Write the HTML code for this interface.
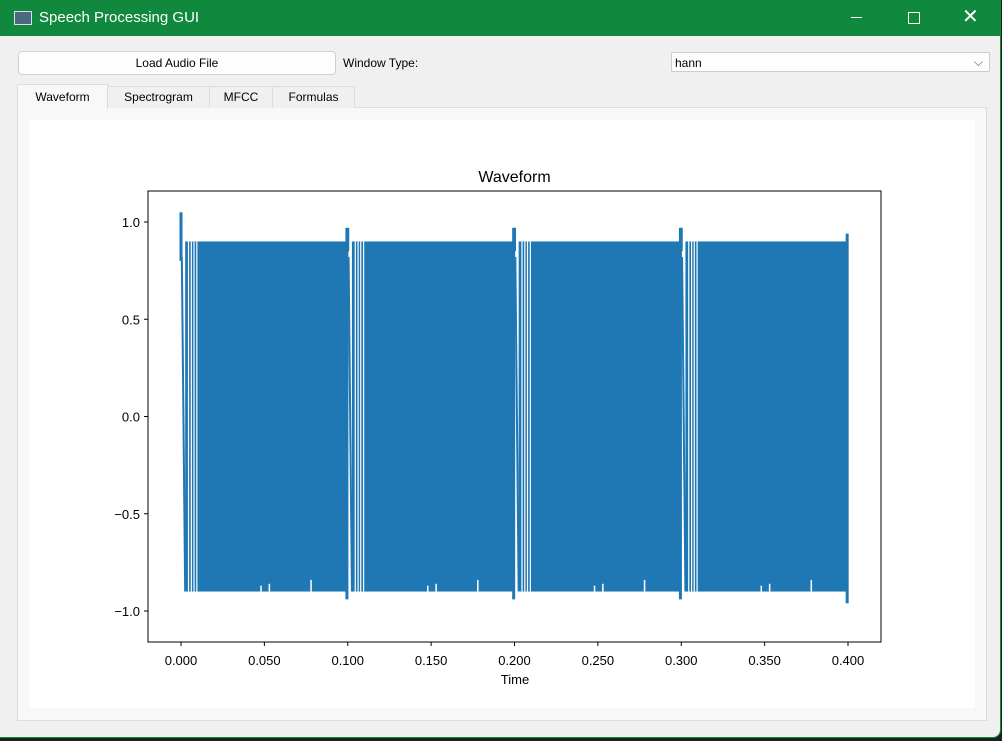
<!DOCTYPE html>
<html><head><meta charset="utf-8"><style>
body{margin:0;width:1002px;height:741px;background:#1e1e1e;overflow:hidden;font-family:"Liberation Sans",sans-serif;}
#win{position:absolute;left:0;top:0;width:1000px;height:737px;background:#f0f0f0;border-right:1px solid #0f8a3f;border-bottom:1px solid #0f8a3f;border-radius:0 0 8px 0}
#title{position:absolute;left:0;top:0;width:1001px;height:36px;background:#10893e;color:#fff;font-size:15px}
#title span{position:absolute;left:39px;top:9px}
.btn{position:absolute;background:#fdfdfd;border:1px solid #d0d0d0;border-radius:4px;font-size:12px;text-align:center;line-height:22px}
.tab{position:absolute;top:86px;height:21px;background:#f0f0f0;border:1px solid #dcdcdc;border-bottom:none;font-size:12px;text-align:center;line-height:21px}
</style></head><body>
<div id="win">
<div id="title">
<div style="position:absolute;left:14px;top:11px;width:16px;height:12px;background:#4a6a80;border:1px solid #ddd"></div>
<span>Speech Processing GUI</span>
<div style="position:absolute;left:851px;top:17px;width:11px;height:1px;background:#fff"></div>
<div style="position:absolute;left:908px;top:12px;width:10px;height:10px;border:1px solid #fff"></div>
<div style="position:absolute;left:962px;top:4px;font-size:20px;color:#fff">✕</div>
</div>
<div class="btn" style="left:18px;top:51px;width:316px;height:22px">Load Audio File</div>
<div style="position:absolute;left:343px;top:56px;font-size:12px">Window Type:</div>
<div style="position:absolute;left:671px;top:52px;width:319px;height:20px;background:#fdfdfd;border:1px solid #ccc;border-radius:2px;font-size:12px;line-height:20px;padding-left:3px;box-sizing:border-box">hann<span style="position:absolute;right:6px;top:-1px;color:#555">⌵</span></div>
<div style="position:absolute;left:17px;top:107px;width:970px;height:614px;background:#f8f8f8;border:1px solid #dcdcdc;box-sizing:border-box"></div>
<div class="tab" style="left:17px;width:89px;top:84px;height:24px;background:#f8f8f8;line-height:24px">Waveform</div>
<div class="tab" style="left:107px;width:101px">Spectrogram</div>
<div class="tab" style="left:209px;width:62px">MFCC</div>
<div class="tab" style="left:272px;width:81px">Formulas</div>
<svg id="chart" style="position:absolute;left:30px;top:120px" width="945" height="588"></svg>
</div>
<script>
const segStarts=[0,0.1,0.2,0.3];
const startPeaks=[1.05,0.97,0.97,0.97,0.94];
const endMins=[-0.94,-0.94,-0.94,-0.96];
const envTop=[0.9,0.9,0.9,0.9];
const envBottom=[-0.9,-0.9,-0.9,-0.9];
const bottomSpikes=[0.048,0.053,0.078,0.148,0.153,0.178,0.248,0.253,0.278,0.348,0.353,0.378];
const bottomSpikeVals=[-0.87,-0.86,-0.84,-0.87,-0.86,-0.84,-0.87,-0.86,-0.84,-0.87,-0.86,-0.84];
const gapOffsets=[0.0045,0.0062,0.0078,0.0095];
const xTicks=[0,0.05,0.1,0.15,0.2,0.25,0.3,0.35,0.4];
const xTickLabels=["0.000","0.050","0.100","0.150","0.200","0.250","0.300","0.350","0.400"];
const yTicks=[1,0.5,0,-0.5,-1];
const yTickLabels=["1.0","0.5","0.0","\u22120.5","\u22121.0"];
const OX=30,OY=120;
const X=t=>181+t*(848-181)/0.4-OX;
const Y=v=>416.5-v*194.5-OY;
const svg=document.getElementById('chart');
const NS='http://www.w3.org/2000/svg';
function mk(tag,a){const e=document.createElementNS(NS,tag);for(const k in a)e.setAttribute(k,a[k]);svg.appendChild(e);return e;}
const bg=mk('rect',{x:0,y:0,width:945,height:588,fill:'#fff'});


const ti=mk('text',{x:(148+881)/2-OX,y:182-OY,'text-anchor':'middle','font-size':16,fill:'#000'});ti.textContent='Waveform';


segStarts.forEach((s,i)=>{
  const p=mk('rect',{x:X(s+0.0025),y:Y(envTop[i]),width:X(s+0.1)-X(s+0.0025),height:Y(envBottom[i])-Y(envTop[i]),fill:'#1f77b4'});
  
  
  const sp=mk('line',{x1:X(s),x2:X(s),y1:Y(startPeaks[i]),y2:Y(i===0?0.8:0.85),stroke:'#1f77b4','stroke-width':3});
  
  
  const dl=mk('line',{x1:X(s+0.0005),x2:X(s+0.0025),y1:Y(0.82),y2:Y(envBottom[i]),stroke:'#1f77b4','stroke-width':2});
  
  
  gapOffsets.forEach(g=>{
    const w=mk('line',{x1:X(s+g),x2:X(s+g),y1:Y(envTop[i]),y2:Y(envBottom[i]),stroke:'#fff','stroke-width':1.2});
    
    
  });
  const ep=mk('line',{x1:X(s+0.0995),x2:X(s+0.0995),y1:Y(startPeaks[i+1]),y2:Y(endMins[i]),stroke:'#1f77b4','stroke-width':3});
  
  
});
bottomSpikes.forEach((t,i)=>{
  const l=mk('line',{x1:X(t),x2:X(t),y1:Y(-0.9),y2:Y(bottomSpikeVals[i]),stroke:'#fff','stroke-width':1.5});
  
  
});
const ax=mk('rect',{x:148-OX,y:191-OY,width:733,height:451,fill:'none',stroke:'#000','stroke-width':1});


xTicks.forEach((t,i)=>{
  mk('line',{x1:X(t),x2:X(t),y1:642-OY,y2:646-OY,stroke:'#000'});
  const tx=mk('text',{x:X(t),y:665-OY,'text-anchor':'middle','font-size':13,fill:'#000'});tx.textContent=xTickLabels[i];
  
  
});
yTicks.forEach((v,i)=>{
  mk('line',{x1:144-OX,x2:148-OX,y1:Y(v),y2:Y(v),stroke:'#000'});
  const tx=mk('text',{x:140-OX,y:Y(v)+5,'text-anchor':'end','font-size':13,fill:'#000'});tx.textContent=yTickLabels[i];
  
  
});
const xl=mk('text',{x:515-OX,y:684-OY,'text-anchor':'middle','font-size':13,fill:'#000'});xl.textContent='Time';


</script>
</body></html>
